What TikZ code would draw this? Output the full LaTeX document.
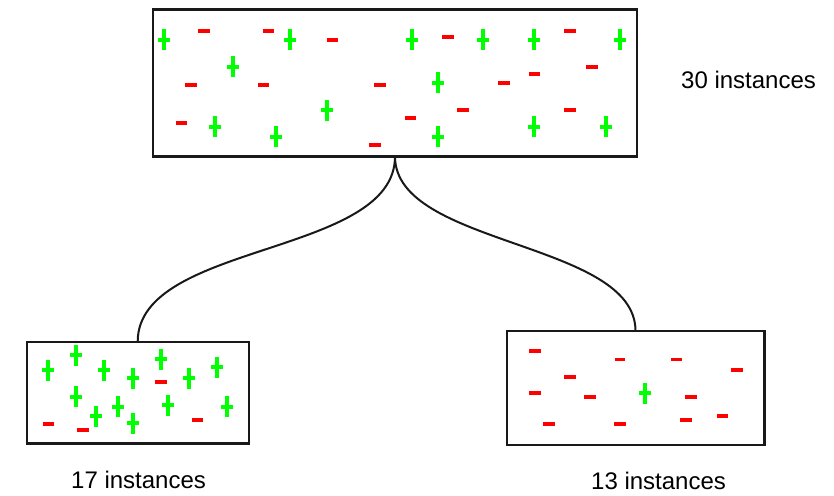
\documentclass[tikz,border=0pt]{standalone}
\usepackage{fontspec}
\setmainfont{Liberation Sans}
\definecolor{posgreen}{HTML}{00FF00}
\definecolor{negred}{HTML}{FF0000}
\begin{document}
\begin{tikzpicture}[x=1pt,y=-1pt,
  box/.style={draw=black!90, line width=2.4pt, inner sep=0pt, outer sep=0pt},
  branch/.style={draw=black!90, line width=2pt},
  lbl/.style={inner sep=0pt, anchor=base west, font=\fontsize{24}{28}\selectfont},
  plusmark/.pic={\fill[posgreen] (-1.9,-10.5) rectangle (1.9,10.5);
                 \fill[posgreen] (-6,-1.9) rectangle (6,1.9);},
  minusmark/.pic={\fill[negred] (-5.8,-1.9) rectangle (5.8,1.9);},
  minussmall/.pic={\fill[negred] (-5.3,-1.2) rectangle (5.3,1.2);}]
\useasboundingbox (0,0) rectangle (834,495);

% the three sets
\node[box, minimum width=484pt, minimum height=147pt] (root) at (395,83) {};
\node[box, minimum width=222pt, minimum height=101.6pt] (left) at (137.7,392.5) {};
\node[box, minimum width=257.6pt, minimum height=114pt] (right) at (635.5,388) {};

% split branches
\draw[branch] (root.south) .. controls +(0,100) and +(0,-100) .. (left.north);
\draw[branch] (root.south) .. controls +(0,90) and +(0,-90) .. (right.north);

% counts
\node[lbl] (nroot) at (681,88) {30 instances};
\node[lbl] (nleft) at (71,488) {17 instances};
\node[lbl] (nright) at (591,489) {13 instances};

% root: positive instances
\foreach \p in {(164,40),(290,40),(412,40),(483.3,40),(534.3,40),(620,40),
  (232.7,66.7),(438.3,82.7),(327.3,110),(215.3,126.7),(275.7,136.7),
  (438.3,136.7),(534.3,126.7),(606,126.7)}
  \pic at \p {plusmark};
% root: negative instances
\foreach \p in {(204,31),(268.3,31),(332.3,39.7),(447.7,37.3),(570,31),
  (592,66.7),(534.3,74.3),(504,82.7),(379.7,85),(263.3,85),(190.7,85),
  (462.7,110),(570,110),(410.3,118.3),(181.3,123.3),(374.7,145.3)}
  \pic at \p {minusmark};

% left subset
\foreach \p in {(48.3,370),(76,355),(104.3,370),(132.7,378.3),(160.7,359.3),
  (189.3,378.3),(217.3,367.3),(76,396.7),(96,416.3),(118.3,406.7),
  (132.7,423.3),(168,405),(226.7,406.7)}
  \pic at \p {plusmark};
\foreach \p in {(160.7,382),(48.3,423.7),(83,430),(197.3,420.3)}
  \pic at \p {minusmark};

% right subset
\pic at (645.3,393.3) {plusmark};
\foreach \p in {(534.7,351.3),(737,369.7),(570,377.3),(534.7,393.3),
  (589.7,396.7),(691,396.7),(548.7,423.7),(620,423.7),(685.7,420.3),
  (722.3,416.3)}
  \pic at \p {minusmark};
\foreach \p in {(620,359.3),(676.7,359.3)}
  \pic at \p {minussmall};
\end{tikzpicture}
\end{document}
